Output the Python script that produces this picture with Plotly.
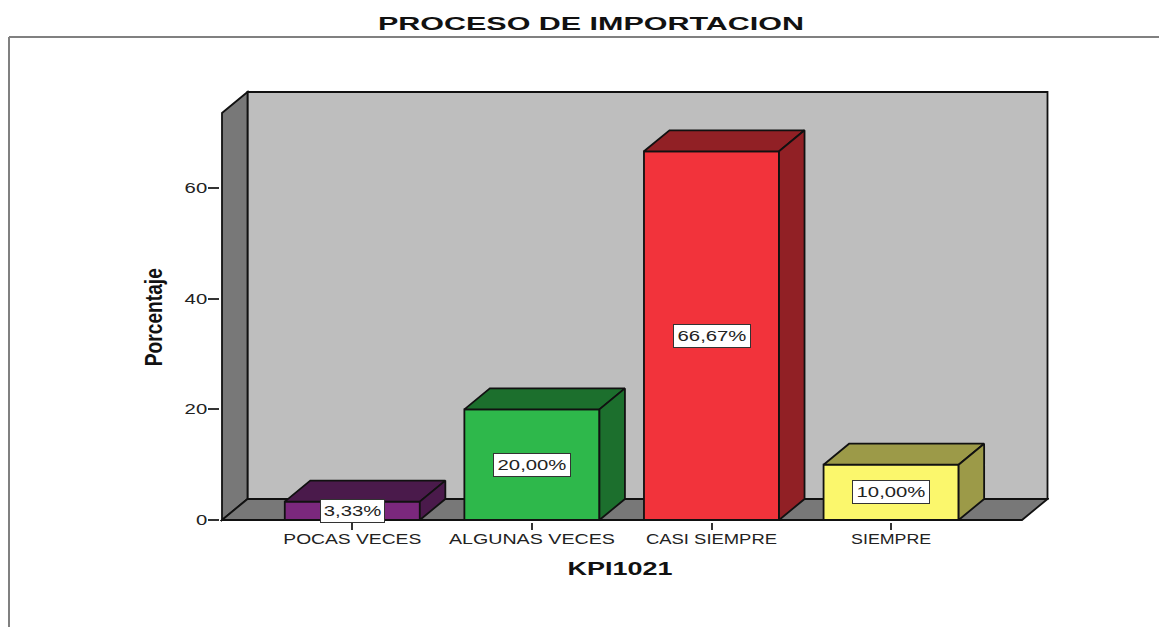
import plotly.graph_objects as go

# Values
categories = ["POCAS VECES", "ALGUNAS VECES", "CASI SIEMPRE", "SIEMPRE"]
percentages = [3.33, 20.00, 66.67, 10.00]
value_labels = ["3,33%", "20,00%", "66,67%", "10,00%"]
y_ticks = [0, 20, 40, 60]

front_colors = ["#7B287D", "#2EB84B", "#F2333B", "#FBF76C"]
shade_colors = ["#4A1A4B", "#1C6F2D", "#912025", "#9C9A48"]

WIDTH, HEIGHT = 1159, 627
PLOT_L, PLOT_R, PLOT_T, PLOT_B = 220, 1049, 90, 522  # plot box in pixels
X0_PX, X_UNIT = 352.3, 179.6  # first category centre, px per category
Y0_PX, Y_UNIT = 520, 5.53  # zero line, px per percent
BAR_WIDTH = 0.752
DEPTH_X = 25.5 / X_UNIT
DEPTH_Y = 21 / Y_UNIT
EDGE = dict(color="#111111", width=1.8)

x_range = [(PLOT_L - X0_PX) / X_UNIT, (PLOT_R - X0_PX) / X_UNIT]
y_range = [(Y0_PX - PLOT_B) / Y_UNIT, (Y0_PX - PLOT_T) / Y_UNIT]

# Chart walls, in axis units
wall_left = (222 - X0_PX) / X_UNIT
wall_right = (1022 - X0_PX) / X_UNIT
wall_top = (Y0_PX - 113) / Y_UNIT


def paper_x(px):
    return (px - PLOT_L) / (PLOT_R - PLOT_L)


def paper_y(px):
    return (PLOT_B - px) / (PLOT_B - PLOT_T)


def poly(points):
    return "M " + " L ".join(f"{x} {y}" for x, y in points) + " Z"


def wall(points, color):
    return dict(
        type="path",
        path=poly(points),
        xref="x",
        yref="y",
        layer="below",
        fillcolor=color,
        line=EDGE,
    )


def paper_line(x0, y0, x1, y1):
    return dict(
        type="line",
        xref="paper",
        yref="paper",
        x0=paper_x(x0),
        x1=paper_x(x1),
        y0=paper_y(y0),
        y1=paper_y(y1),
        line=dict(color="#808080", width=2),
    )


shapes = [
    # back wall
    wall(
        [
            (wall_left + DEPTH_X, DEPTH_Y),
            (wall_right + DEPTH_X, DEPTH_Y),
            (wall_right + DEPTH_X, wall_top + DEPTH_Y),
            (wall_left + DEPTH_X, wall_top + DEPTH_Y),
        ],
        "#BEBEBE",
    ),
    # left wall
    wall(
        [
            (wall_left, 0),
            (wall_left + DEPTH_X, DEPTH_Y),
            (wall_left + DEPTH_X, wall_top + DEPTH_Y),
            (wall_left, wall_top),
        ],
        "#787878",
    ),
    # floor
    wall(
        [
            (wall_left, 0),
            (wall_right, 0),
            (wall_right + DEPTH_X, DEPTH_Y),
            (wall_left + DEPTH_X, DEPTH_Y),
        ],
        "#787878",
    ),
    # outer frame
    paper_line(9, 37, WIDTH, 37),
    paper_line(9, 37, 9, HEIGHT),
]

fig = go.Figure()

# Front faces
fig.add_trace(
    go.Bar(
        x=list(range(len(categories))),
        y=percentages,
        width=BAR_WIDTH,
        marker=dict(color=front_colors, line=EDGE),
        showlegend=False,
        cliponaxis=False,
    )
)

# Top and side faces, built from the same values
for i, value in enumerate(percentages):
    left = i - BAR_WIDTH / 2
    right = i + BAR_WIDTH / 2
    top_x = [left, right, right + DEPTH_X, left + DEPTH_X, left]
    top_y = [value, value, value + DEPTH_Y, value + DEPTH_Y, value]
    side_x = [right, right + DEPTH_X, right + DEPTH_X, right, right]
    side_y = [0, DEPTH_Y, value + DEPTH_Y, value, 0]
    for xs, ys in [(top_x, top_y), (side_x, side_y)]:
        fig.add_trace(
            go.Scatter(
                x=xs,
                y=ys,
                mode="lines",
                fill="toself",
                fillcolor=shade_colors[i],
                line=EDGE,
                hoverinfo="skip",
                showlegend=False,
                cliponaxis=False,
            )
        )

annotations = [
    dict(
        x=i,
        y=value / 2,
        xref="x",
        yref="y",
        text=label,
        showarrow=False,
        font=dict(family="Liberation Sans", size=14, color="#222222"),
        bgcolor="white",
        bordercolor="#333333",
        borderwidth=1,
        width=len(label) * 13 - 2,
        height=22,
        align="center",
        borderpad=0,
    )
    for i, (value, label) in enumerate(zip(percentages, value_labels))
]

# Axis titles sit off-centre in the source, so they are placed by hand
annotations += [
    dict(
        x=paper_x(620),
        y=paper_y(568),
        xref="paper",
        yref="paper",
        text="<b>KPI1021</b>",
        showarrow=False,
        xanchor="center",
        yanchor="middle",
        font=dict(family="Liberation Sans", size=19, color="#111111"),
    ),
    dict(
        x=paper_x(154),
        y=paper_y(317),
        xref="paper",
        yref="paper",
        text="<b>Porcentaje</b>",
        textangle=-90,
        showarrow=False,
        xanchor="center",
        yanchor="middle",
        font=dict(family="Liberation Sans", size=23, color="#111111"),
    ),
]

fig.update_layout(
    width=WIDTH,
    height=HEIGHT,
    margin=dict(l=PLOT_L, r=WIDTH - PLOT_R, t=PLOT_T, b=HEIGHT - PLOT_B, pad=0),
    paper_bgcolor="white",
    plot_bgcolor="white",
    font=dict(family="Liberation Sans", size=14, color="#222222"),
    title=dict(
        text="<b>PROCESO DE IMPORTACION</b>",
        x=591 / WIDTH,
        xanchor="center",
        y=1 - 23 / HEIGHT,
        yanchor="middle",
        font=dict(family="Liberation Sans", size=19, color="#111111"),
    ),
    shapes=shapes,
    annotations=annotations,
    showlegend=False,
)
fig.update_xaxes(
    range=x_range,
    tickmode="array",
    tickvals=list(range(len(categories))),
    ticktext=categories,
    ticks="outside",
    ticklen=7,
    tickwidth=1.5,
    tickcolor="#333333",
    ticklabelstandoff=-3,
    showgrid=False,
    zeroline=False,
    showline=False,
)
fig.update_yaxes(
    range=y_range,
    tickmode="array",
    tickvals=y_ticks,
    ticks="outside",
    ticklen=11,
    tickwidth=1.5,
    tickcolor="#333333",
    ticklabelstandoff=-2,
    showgrid=False,
    zeroline=False,
    showline=False,
)

# The source image is stretched sideways, so stretch the glyphs the same way
post_script = """
document.body.style.margin = '0';
function stretch(t, len) {
  t.setAttribute('textLength', len);
  t.setAttribute('lengthAdjust', 'spacingAndGlyphs');
}
var tickWidths = [138, 166, 131, 80];
document.querySelectorAll('.xtick text').forEach(function (t, i) { stretch(t, tickWidths[i]); });
document.querySelectorAll('.ytick text').forEach(function (t) { stretch(t, t.getComputedTextLength() * 1.45); });
document.querySelectorAll('.annotation-text').forEach(function (t, i) {
  if (i < 4) stretch(t, t.getComputedTextLength() * 1.45);
  else stretch(t, i === 4 ? 105 : 98);
});
document.querySelectorAll('.gtitle').forEach(function (t) { stretch(t, 426); });
"""

fig.write_html("out.html", post_script=post_script, config=dict(displayModeBar=False))
